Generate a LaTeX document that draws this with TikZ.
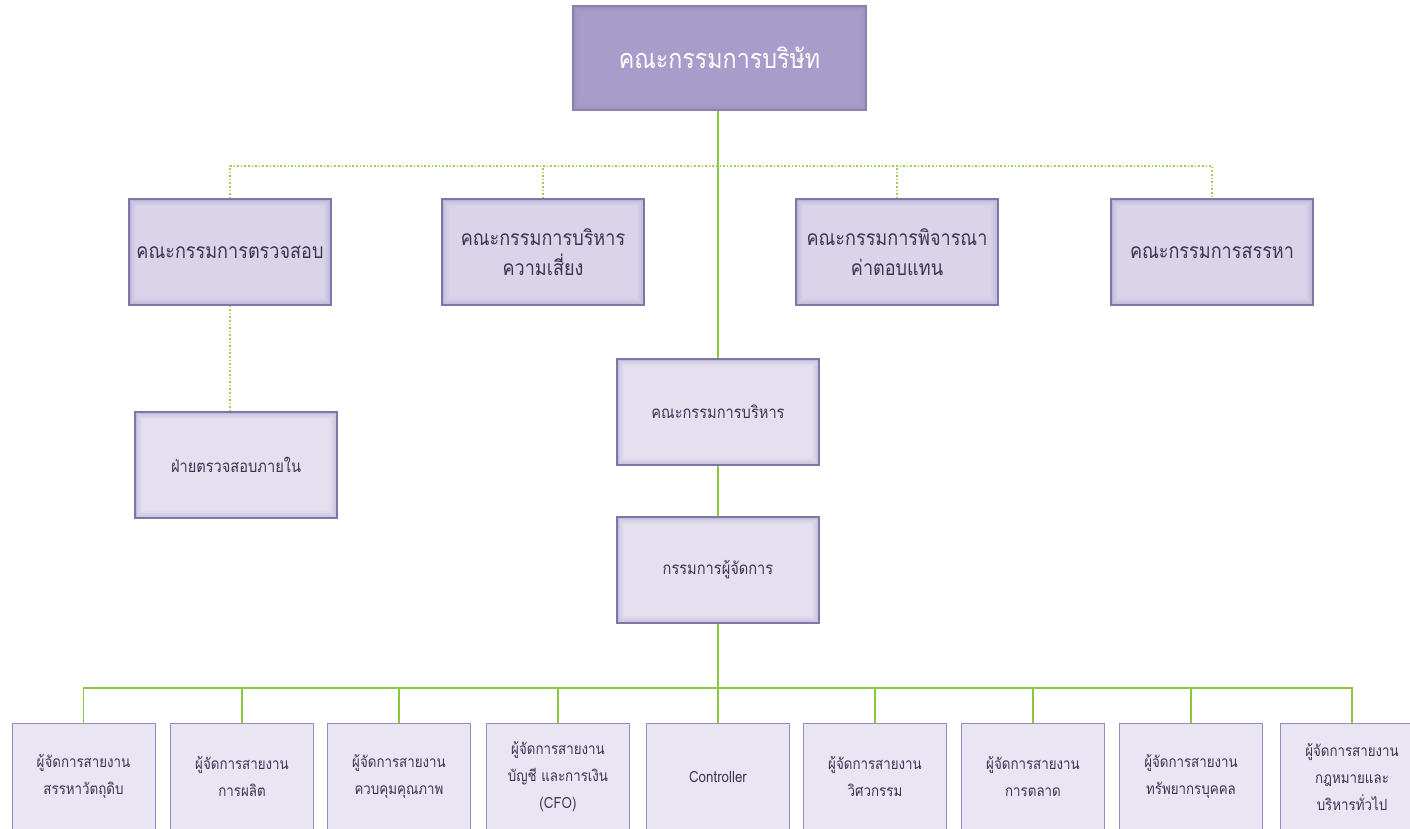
\documentclass[tikz,border=0pt]{standalone}
\usepackage{fontspec}
\newfontfamily\thai[Script=Thai,FakeStretch=0.86]{Loma}
\definecolor{boardfill}{HTML}{A89DCA}
\definecolor{boardline}{HTML}{8A82AE}
\definecolor{comfill}{HTML}{DAD4EA}
\definecolor{comline}{HTML}{7E75AA}
\definecolor{mgrfill}{HTML}{E9E5F3}
\definecolor{mgrline}{HTML}{958CC2}
\definecolor{txt}{HTML}{3B3552}
\definecolor{lime}{HTML}{8DC63F}
\newcommand{\glowin}[1]{%
  \foreach \w/\o in {14/0.06,10/0.07,6/0.09,3/0.12}{%
    \draw[line width=\w pt, draw=#1, opacity=\o]
      (path picture bounding box.south west) rectangle (path picture bounding box.north east);}}
\tikzset{
  board/.style={draw=boardline, line width=1.2pt, fill=boardfill, text=white,
    minimum width=293, minimum height=104, align=center,
    font=\thai\fontsize{27}{32}\selectfont,
    path picture={\glowin{boardline}}},
  combox/.style={draw=comline, line width=1.2pt, fill=comfill, text=txt,
    minimum width=202, minimum height=106, align=center,
    font=\thai\fontsize{21}{30}\selectfont,
    path picture={\glowin{comline}}},
  execbox/.style={combox, fill=mgrfill!70!comfill, font=\thai\fontsize{17}{26}\selectfont},
  mgrbox/.style={draw=mgrline, line width=1pt, fill=mgrfill, text=txt,
    minimum width=143, minimum height=108, align=center,
    font=\thai\fontsize{15.5}{27}\selectfont},
  solidg/.style={draw=lime, line width=1.6pt},
  dotg/.style={draw=lime!85!white, line width=1.6pt, dotted}
}
\begin{document}
\begin{tikzpicture}[x=1pt,y=-1pt]
\useasboundingbox (0,0) rectangle (1410,828);
\clip (0,0) rectangle (1410,828);
% bus points
\coordinate (dbus) at (718,166);
\coordinate (bbus) at (718,688);
% nodes
\node[board] (board) at (719.5,58) {คณะกรรมการบริษัท};
\node[combox] (c1) at (230,252) {คณะกรรมการตรวจสอบ};
\node[combox] (c2) at (543,252) {คณะกรรมการบริหาร\\ความเสี่ยง};
\node[combox] (c3) at (897,252) {คณะกรรมการพิจารณา\\ค่าตอบแทน};
\node[combox] (c4) at (1212,252) {คณะกรรมการสรรหา};
\node[execbox] (audit) at (236,465) {ฝ่ายตรวจสอบภายใน};
\node[execbox] (exec) at (718,412) {คณะกรรมการบริหาร};
\node[execbox] (md) at (718,570) {กรรมการผู้จัดการ};
\node[mgrbox] (m1) at (83.5,777) {ผู้จัดการสายงาน\\สรรหาวัตถุดิบ};
\node[mgrbox] (m2) at (242,777) {ผู้จัดการสายงาน\\การผลิต};
\node[mgrbox] (m3) at (399,777) {ผู้จัดการสายงาน\\ควบคุมคุณภาพ};
\node[mgrbox] (m4) at (558,777) {ผู้จัดการสายงาน\\บัญชี และการเงิน\\(CFO)};
\node[mgrbox] (m5) at (718,777) {Controller};
\node[mgrbox] (m6) at (875,777) {ผู้จัดการสายงาน\\วิศวกรรม};
\node[mgrbox] (m7) at (1033,777) {ผู้จัดการสายงาน\\การตลาด};
\node[mgrbox] (m8) at (1191,777) {ผู้จัดการสายงาน\\ทรัพยากรบุคคล};
\node[mgrbox] (m9) at (1352,777) {ผู้จัดการสายงาน\\กฎหมายและ\\บริหารทั่วไป};
% connectors
\draw[dotg] (c1.north) |- (dbus) -| (c4.north);
\draw[dotg] (c2.north) -- (c2.north |- dbus);
\draw[dotg] (c3.north) -- (c3.north |- dbus);
\draw[dotg] (c1.south) -- (c1.south |- audit.north);
\draw[solidg] (exec.north |- board.south) -- (exec.north);
\draw[solidg] (exec.south) -- (md.north);
\draw[solidg] (md.south) -- (bbus);
\draw[solidg] (m1.north) |- (bbus) -| (m9.north);
\foreach \m in {m2,m3,m4,m5,m6,m7,m8}{
  \draw[solidg] (\m.north) -- (\m.north |- bbus);
}
\end{tikzpicture}
\end{document}
